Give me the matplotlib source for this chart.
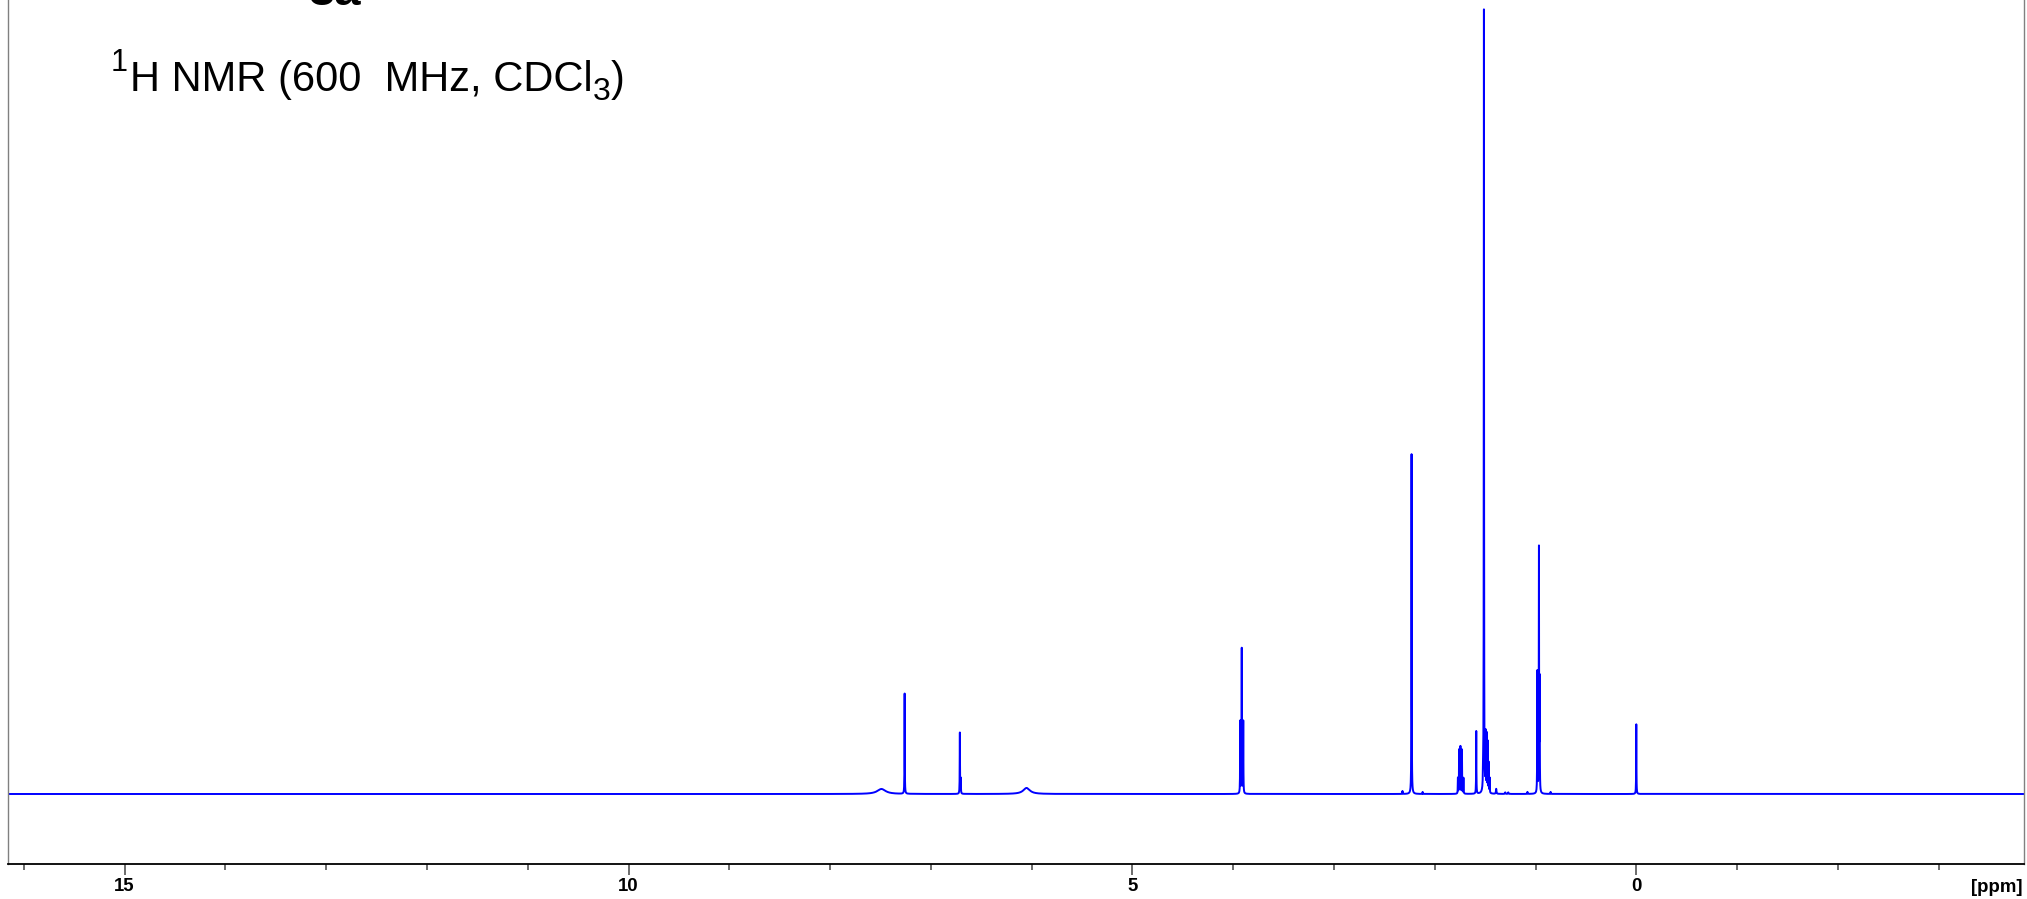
import numpy as np
import matplotlib
matplotlib.use("Agg")
import matplotlib.pyplot as plt
from matplotlib.ticker import MultipleLocator

plt.rcParams['font.family'] = ['Liberation Sans', 'DejaVu Sans']

# peak list (ppm, relative height, half width in ppm)
shifts = [7.49, 7.26, 6.712, 6.703, 6.05,
          3.93, 3.915, 3.90,
          2.32, 2.23, 2.12,
          1.77, 1.758, 1.745, 1.73, 1.715,
          1.588, 1.52, 1.512, 1.495, 1.485, 1.475, 1.465, 1.455,
          1.39, 1.30, 1.27, 1.08,
          0.982, 0.966, 0.959, 0.85, 0.00]
heights = [0.64, 12.8, 7.8, 1.9, 0.77,
           9.2, 18.5, 9.2,
           0.38, 43.4, 0.26,
           2.0, 5.6, 6.0, 5.6, 2.0,
           8.0, 1.8, 100.0, 7.3, 7.3, 6.4, 3.8, 1.9,
           0.64, 0.2, 0.2, 0.26,
           15.5, 31.0, 13.9, 0.26, 8.9]
widths = [0.05, 0.0015, 0.0015, 0.0015, 0.04,
          0.0015, 0.0015, 0.0015,
          0.0015, 0.0015, 0.0015,
          0.0015, 0.0015, 0.0015, 0.0015, 0.0015,
          0.0015, 0.002, 0.0015, 0.0015, 0.0015, 0.0015, 0.0015, 0.0015,
          0.003, 0.003, 0.003, 0.002,
          0.0015, 0.0015, 0.0015, 0.002, 0.0015]

x_left, x_right = 16.16, -3.85
ppm = np.arange(x_right, x_left, 0.0005)
spec = np.zeros_like(ppm)
for s, h, w in zip(shifts, heights, widths):
    spec += h / (1 + ((ppm - s) / w) ** 2)

W, H = 2027, 899
fig = plt.figure(figsize=(W / 100, H / 100), dpi=100)
ax = fig.add_axes([7.7 / W, 35 / H, (2024.3 - 7.7) / W, 1 - 35 / H])

ax.plot(ppm, spec, color='#0000ff', lw=1.4)
ax.set_xlim(x_left, x_right)
ax.set_ylim(-8.94, 101.4)

ax.spines['top'].set_visible(False)
ax.spines['left'].set_color('#808080')
ax.spines['right'].set_color('#808080')
ax.spines['left'].set_linewidth(1.0)
ax.spines['right'].set_linewidth(1.0)
ax.spines['bottom'].set_color('black')
ax.spines['bottom'].set_linewidth(1.3)

ax.set_yticks([])
ax.xaxis.set_major_locator(MultipleLocator(5))
ax.xaxis.set_minor_locator(MultipleLocator(1))
ax.tick_params(axis='x', which='major', length=8, width=1.1, color='#444444',
               pad=2, labelsize=13.4)
ax.tick_params(axis='x', which='minor', length=4.3, width=1.1, color='#444444')
for lab in ax.get_xticklabels():
    lab.set_fontweight('bold')

fig.text(2023 / W, 1 - 888 / H, '[ppm]', ha='right', va='center',
         fontsize=13.4, fontweight='bold')

# sample label, cut off at the top edge like in the original
fig.text(335 / W, 1 - 5 / H, '3a', ha='center', va='baseline',
         fontsize=34, fontweight='bold')

# title: 1H NMR (600 MHz, CDCl3)
r = fig.canvas.get_renderer()
t1 = fig.text(111 / W, 1 - 71 / H, '1', va='baseline', fontsize=22)
t2 = fig.text(130 / W, 1 - 91 / H, 'H NMR (600  MHz, CDCl', va='baseline', fontsize=30)
x2 = t2.get_window_extent(r).x1
t3 = fig.text(x2 / W, 1 - 100 / H, '3', va='baseline', fontsize=23)
x3 = t3.get_window_extent(r).x1
fig.text(x3 / W, 1 - 91 / H, ')', va='baseline', fontsize=30)

fig.savefig('out.png', dpi=100)
